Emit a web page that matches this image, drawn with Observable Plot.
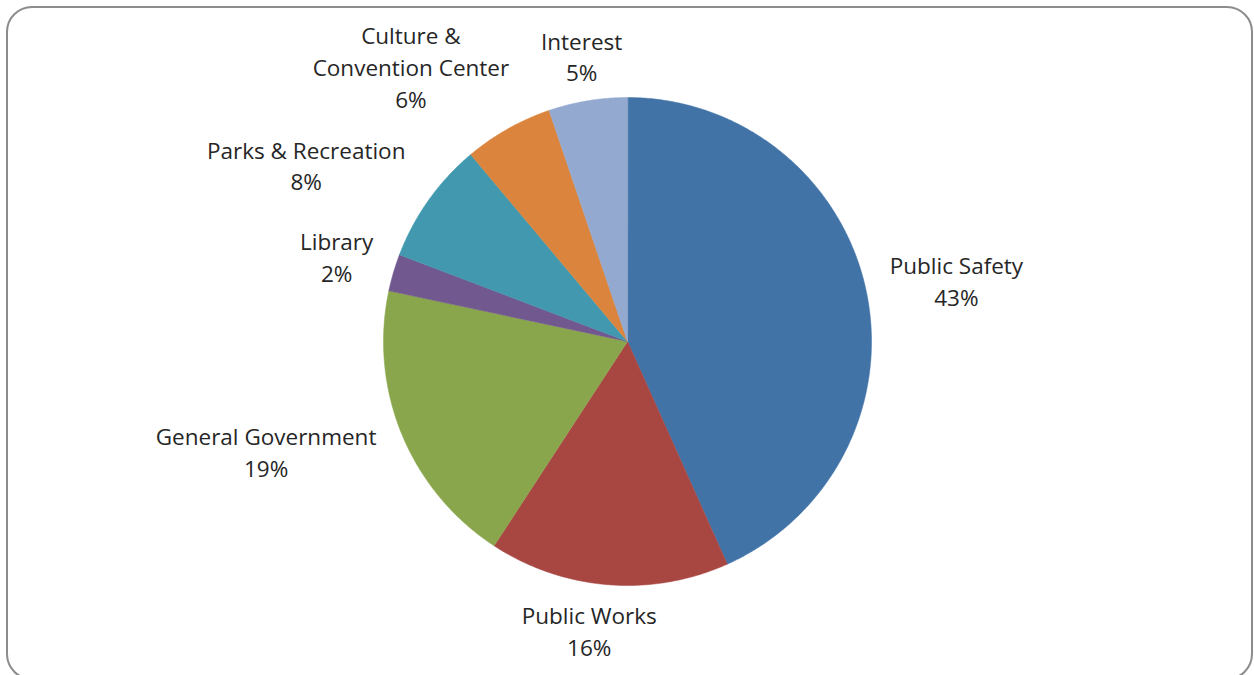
<!DOCTYPE html>
<html><head><meta charset="utf-8">
<script src="https://cdn.jsdelivr.net/npm/d3@7"></script>
<script src="https://cdn.jsdelivr.net/npm/@observablehq/plot@0.6"></script>
<style>
html,body{margin:0;padding:0;background:#fff;}
#wrap{position:relative;width:1254px;height:675px;overflow:hidden;}
#frame{position:absolute;left:6px;top:6px;width:1247px;height:674px;border:2px solid #8c8c8c;border-radius:26px;box-sizing:border-box;}
#chart{position:absolute;left:0;top:0;}
</style></head><body>
<div id="wrap"><div id="frame"></div><div id="chart"></div></div>
<script>
// ---- data ----
const categories = ["Public Safety", "Public Works", "General Government", "Library", "Parks & Recreation", "Culture & Convention Center", "Interest"];
const labelNames = ["Public Safety", "Public Works", "General Government", "Library", "Parks & Recreation", "Culture &\nConvention Center", "Interest"];
const values = [43.25, 15.9, 19.1, 2.45, 8.1, 5.9, 5.2];
const colors = ["#4173A7", "#A84642", "#8AA64D", "#71588F", "#4198AF", "#DB843D", "#93A9CF"];

// ---- label placement (layout, relative to pie radius) ----
const labelAngleOffset = [1.8, 3.0, 5.3, -0.4, -6.8, -9.0, 0.2];
const labelDistance = [1.37, 1.20, 1.55, 1.24, 1.50, 1.43, 1.18];

const total = d3.sum(values);
const slices = [];
const labels = [];
let acc = 0;
const toRad = Math.PI / 180;
categories.forEach((c, i) => {
  const a0 = acc / total * 360;
  acc += values[i];
  const a1 = acc / total * 360;
  const ring = [[0, 0]];
  const n = Math.max(4, Math.ceil((a1 - a0) / 0.5));
  for (let k = 0; k <= n; k++) {
    const a = (a0 + (a1 - a0) * k / n) * toRad;
    ring.push([Math.sin(a), Math.cos(a)]);
  }
  ring.push([0, 0]);
  slices.push({type: "Feature", properties: {category: c}, geometry: {type: "Polygon", coordinates: [ring]}});
  const mid = ((a0 + a1) / 2 + labelAngleOffset[i]) * toRad;
  labels.push({
    x: Math.sin(mid) * labelDistance[i],
    y: Math.cos(mid) * labelDistance[i],
    label: labelNames[i] + "\n" + Math.round(values[i] / total * 100) + "%"
  });
});

const domain = {type: "Polygon", coordinates: [[[-1, -1], [1, -1], [1, 1], [-1, 1], [-1, -1]]]};

const chart = Plot.plot({
  width: 1254,
  height: 675,
  marginLeft: 383,
  marginRight: 383,
  marginTop: 97,
  marginBottom: 90,
  projection: {type: "reflect-y", domain, inset: 0, clip: false},
  color: {domain: categories, range: colors},
  style: {background: "transparent", fontFamily: "'Open Sans', sans-serif", overflow: "visible"},
  marks: [
    Plot.geo(slices, {fill: d => d.properties.category, stroke: d => d.properties.category, strokeWidth: 0.5}),
    Plot.text(labels, {x: "x", y: "y", text: "label", fontSize: 22.5, lineHeight: 1.42, fill: "#262626", dy: -2})
  ]
});
document.getElementById("chart").appendChild(chart);
</script>
</body></html>
